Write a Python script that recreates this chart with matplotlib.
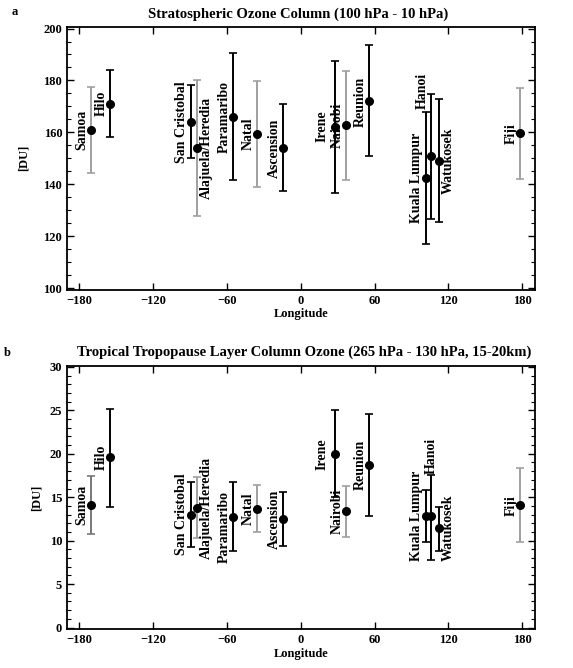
import matplotlib
matplotlib.use('Agg')
from matplotlib import pyplot as plt
from matplotlib.ticker import MultipleLocator

# station names and longitudes
stations = ['Samoa', 'Hilo', 'San Cristobal', 'Alajuela/Heredia', 'Paramaribo',
            'Natal', 'Ascension', 'Irene', 'Nairobi', 'Reunion',
            'Kuala Lumpur', 'Hanoi', 'Watukosek', 'Fiji']
lons = [-170.6, -155.0, -89.6, -84.0, -55.2, -35.3, -14.4,
        28.2, 36.8, 55.5, 101.7, 105.8, 112.6, 178.4]

# panel a: stratospheric column (100-10 hPa)
strat_mean = [160.9, 171.1, 164.0, 154.0, 166.0, 159.3, 153.8,
              162.2, 162.8, 171.9, 142.5, 150.8, 149.0, 159.6]
strat_top = [177.5, 184.2, 178.1, 180.0, 190.7, 179.8, 170.9,
             187.6, 183.8, 193.7, 168.0, 174.9, 173.0, 177.1]
strat_bot = [144.3, 158.3, 150.3, 127.8, 141.5, 138.9, 137.3,
             136.7, 141.5, 150.9, 117.1, 126.6, 125.6, 142.1]

# panel b: TTL column (265-130 hPa)
ttl_mean = [14.1, 19.6, 13.0, 13.8, 12.7, 13.7, 12.5,
            20.0, 13.4, 18.7, 12.8, 12.8, 11.45, 14.05]
ttl_top = [17.4, 25.2, 16.8, 17.3, 16.7, 16.4, 15.6,
           25.0, 16.3, 24.6, 15.8, 17.6, 13.85, 18.4]
ttl_bot = [10.8, 13.85, 9.24, 10.3, 8.8, 11.0, 9.4,
           15.0, 10.4, 12.8, 9.8, 7.8, 8.8, 9.8]

plt.rcParams['font.family'] = ['Liberation Serif', 'DejaVu Serif']
plt.rcParams['font.weight'] = 'bold'

fig = plt.figure(figsize=(5.73, 6.68), dpi=100)
ax1 = fig.add_axes([0.117, 0.566, 0.817, 0.394])
ax2 = fig.add_axes([0.117, 0.058, 0.817, 0.394])

# label x offsets in px (default -9: left of the point)
label_dx = {'Alajuela/Heredia': 9, 'Watukosek': 9, 'Irene': -13}


def draw(ax, mean, top, bot, grays, hanoi_y, hanoi_dx, label_dy, ylpad):
    for i, name in enumerate(stations):
        col = grays.get(name, 'black')
        ax.errorbar(lons[i], mean[i],
                    yerr=[[mean[i] - bot[i]], [top[i] - mean[i]]],
                    fmt='none', ecolor=col, elinewidth=1.4, capsize=3,
                    capthick=1.2, zorder=2)
        ax.plot(lons[i], mean[i], 'o', color='black', ms=5.5, zorder=3)
        if name == 'Hanoi':
            ax.annotate(name, (lons[i], hanoi_y), xytext=(hanoi_dx, 0),
                        textcoords='offset pixels', rotation=90,
                        ha='center', va='center', fontsize=10,
                        fontweight='bold', zorder=4)
            continue
        dx = label_dx.get(name, -9)
        dy = label_dy.get(name, 0)
        ax.annotate(name, (lons[i], mean[i]), xytext=(dx, dy),
                    textcoords='offset pixels', rotation=90,
                    ha='center', va='center', fontsize=10,
                    fontweight='bold', zorder=4)
    ax.set_xlim(-190, 190.5)
    ax.xaxis.set_major_locator(MultipleLocator(60))
    ax.tick_params(which='both', direction='in', top=True, right=True,
                   labelsize=9)
    ax.tick_params(which='major', length=5, width=1)
    ax.tick_params(which='minor', length=3, width=0.8)
    for lab in ax.get_xticklabels() + ax.get_yticklabels():
        lab.set_fontweight('bold')
    for s in ax.spines.values():
        s.set_linewidth(1.3)
    ax.set_xlabel('Longitude', fontsize=9, fontweight='bold', labelpad=1)
    ax.set_ylabel('[DU]', fontsize=9, fontweight='bold', labelpad=ylpad)


gray_a = {'Samoa': '#a0a0a0', 'Alajuela/Heredia': '#a0a0a0',
          'Natal': '#a0a0a0', 'Nairobi': '#a0a0a0', 'Fiji': '#a0a0a0'}
gray_b = {'Samoa': '#777777', 'Alajuela/Heredia': '#a0a0a0',
          'Natal': '#a0a0a0', 'Nairobi': '#a0a0a0', 'Fiji': '#a0a0a0'}

draw(ax1, strat_mean, strat_top, strat_bot, gray_a, 176, -9, {}, 10)
ax1.set_ylim(99.3, 200.7)
ax1.yaxis.set_major_locator(MultipleLocator(20))
ax1.yaxis.set_minor_locator(MultipleLocator(5))

draw(ax2, ttl_mean, ttl_top, ttl_bot, gray_b, 19.8, 0,
     {'Paramaribo': -10}, 5)
ax2.set_ylim(-0.2, 30.1)
ax2.yaxis.set_major_locator(MultipleLocator(5))
ax2.yaxis.set_minor_locator(MultipleLocator(1))

fig.text(0.52, 0.978, 'Stratospheric Ozone Column (100 hPa - 10 hPa)',
         ha='center', va='center', fontsize=10.5, fontweight='bold')
fig.text(0.025, 0.982, 'a', ha='center', va='center', fontsize=9,
         fontweight='bold')
fig.text(0.012, 0.472, 'b', ha='center', va='center', fontsize=9,
         fontweight='bold')
fig.text(0.53, 0.472,
         'Tropical Tropopause Layer Column Ozone (265 hPa - 130 hPa, 15-20km)',
         ha='center', va='center', fontsize=10.5, fontweight='bold')

fig.savefig('out.png', dpi=100)
